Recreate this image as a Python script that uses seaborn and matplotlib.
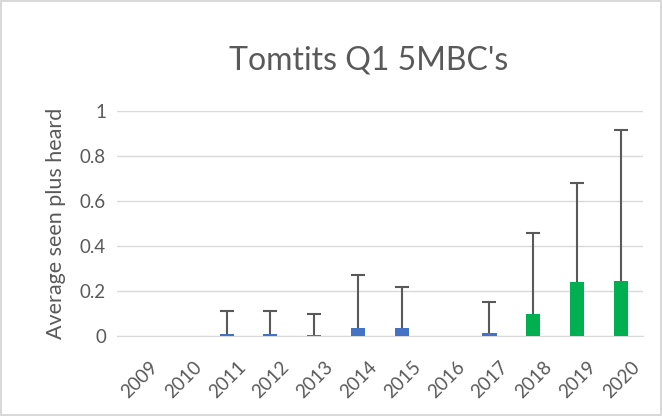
import numpy as np
import pandas as pd
import matplotlib
matplotlib.use("Agg")
import matplotlib.pyplot as plt
import matplotlib.transforms as mtransforms
import seaborn as sns

years = ["2009", "2010", "2011", "2012", "2013", "2014", "2015", "2016", "2017", "2018", "2019", "2020"]
averages = [0.0, 0.0, 0.009, 0.009, 0.007, 0.038, 0.036, 0.0, 0.015, 0.10, 0.24, 0.245]
upper_err = [0.0, 0.0, 0.101, 0.101, 0.093, 0.232, 0.184, 0.0, 0.135, 0.36, 0.44, 0.67]
period = ["before"] * 9 + ["after"] * 3

df = pd.DataFrame({"year": years, "avg": averages, "period": period})

sns.set_style("white")
plt.rcParams['font.family'] = ['Lato', 'DejaVu Sans']

fig = plt.figure(figsize=(6.62, 4.16), dpi=100, edgecolor="#D9D9D9", linewidth=1.5)
ax = fig.add_axes([0.177, 0.192, 0.794, 0.541])

sns.barplot(data=df, x="year", y="avg", hue="period",
            palette={"before": "#4472C4", "after": "#00B050"},
            dodge=False, width=0.32, saturation=1, linewidth=0,
            legend=False, ax=ax, zorder=3)

# upper-only error bars, skipped where the mean is zero
xs = np.arange(len(years))
avg = np.array(averages)
up = np.array(upper_err)
mask = up > 0
ax.errorbar(xs[mask], avg[mask], yerr=[np.zeros(mask.sum()), up[mask]],
            fmt="none", ecolor="#595959", elinewidth=1.5, capsize=0,
            zorder=2.5, clip_on=False)
ax.plot(xs[mask], (avg + up)[mask], linestyle="none", marker="_",
        markersize=10, markeredgewidth=1.5, color="#595959", zorder=4,
        clip_on=False)

ax.set_ylim(0, 1)
ax.set_xlim(-0.5, len(years) - 0.5)
ax.set_yticks([0, 0.2, 0.4, 0.6, 0.8, 1])
ax.set_yticklabels(["0", "0.2", "0.4", "0.6", "0.8", "1"])
ax.yaxis.grid(True, color="#D9D9D9", linewidth=1)
ax.set_axisbelow(True)
for s in ["top", "right", "left"]:
    ax.spines[s].set_visible(False)
ax.spines["bottom"].set_color("#D9D9D9")
ax.tick_params(axis="y", length=0, labelsize=13.5, colors="#595959", pad=8)
ax.tick_params(axis="x", length=0, labelsize=13.5, colors="#595959", pad=16)
shift = mtransforms.ScaledTranslation(10 / 100, 0, fig.dpi_scale_trans)
for lab in ax.get_xticklabels():
    lab.set_rotation(45)
    lab.set_ha("right")
    lab.set_rotation_mode("anchor")
    lab.set_transform(lab.get_transform() + shift)

ax.set_xlabel("")
ax.set_ylabel("Average seen plus heard", fontsize=15.5, color="#595959", labelpad=10)
fig.text(0.557, 0.855, "Tomtits Q1 5MBC's", fontsize=23, color="#595959",
         ha="center", va="center")

fig.savefig("out.png", dpi=100, edgecolor=fig.get_edgecolor())
